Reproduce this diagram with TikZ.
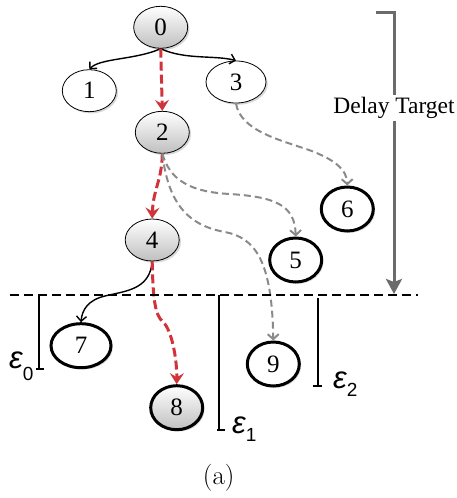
\documentclass[tikz,border=0pt]{standalone}
\usepackage{fontspec}
\newfontfamily\tnr{Liberation Serif}
\newfontfamily\lsans{Liberation Sans}
\usetikzlibrary{arrows.meta,shadows,shapes.geometric}
\definecolor{redpath}{HTML}{D0343A}
\definecolor{graypath}{HTML}{8A8A8A}
\definecolor{delaygray}{HTML}{6B6B6B}
\newcommand{\epslab}[2]{{\lsans\itshape\fontsize{31}{31}\selectfont ε}\raisebox{#2}{\lsans\fontsize{19}{19}\selectfont #1}}
\begin{document}
\begin{tikzpicture}[x=1pt,y=-1pt,
  nd/.style={ellipse, draw=black, line width=0.8pt, minimum width=54pt, minimum height=42pt,
    inner sep=0pt, fill=white, font=\tnr\fontsize{25}{25}\selectfont,
    drop shadow={shadow xshift=1.8pt, shadow yshift=-1.8pt, opacity=0.3}},
  thk/.style={line width=3pt, minimum width=52pt, minimum height=44pt},
  grd/.style={top color=white, bottom color=gray!50},
  blk/.style={line width=1.4pt, -{Straight Barb[length=5pt,width=10pt]}},
  redp/.style={line width=3pt, redpath, dash pattern=on 9pt off 4pt,
    -{Stealth[length=11pt,width=14pt,inset=4pt]}},
  grayp/.style={line width=2pt, graypath, dash pattern=on 7pt off 4pt,
    -{Straight Barb[length=5pt,width=11pt]}},
  hdash/.style={line width=2.5pt, dash pattern=on 9pt off 5pt},
  dg/.style={line width=3pt, delaygray},
  epsl/.style={line width=2.3pt},
  lab/.style={inner sep=0pt, anchor=base west}
]
\useasboundingbox (0,0) rectangle (456,498);

% nodes
\node[nd,grd] (a0) at (160.7,27.3) {0};
\node[nd] (a1) at (89.3,90.7) {1};
\node[nd,grd] (a2) at (162.3,132.3) {2};
\node[nd,minimum width=60pt] (a3) at (236,82) {3};
\node[nd,grd] (a4) at (152.2,240) {4};
\node[nd,thk] (a5) at (295.7,260) {5};
\node[nd,thk] (a6) at (347.3,209) {6};
\node[nd,thk,minimum width=60pt] (a7) at (81,345.7) {7};
\node[nd,thk,grd] (a8) at (176.7,407.7) {8};
\node[nd,thk] (a9) at (273.3,364) {9};

% black edges
\draw[blk] (a0.south) .. controls (135,60) and (100,58) .. (a1.north);
\draw[blk] (a0.south) .. controls (185,60) and (215,55) .. (a3.north);
\draw[blk] (a4.south) .. controls (150,290) and (125,291) .. (105,296)
  .. controls (88,300) and (82,310) .. (a7.north);

% red edges
\draw[redp] (a0.south) -- (a2.north);
\draw[redp] (a2.south) .. controls (162,180) and (153,190) .. (a4.north);
\draw[redp] (a4.south) .. controls (153,300) and (155,315) .. (163,322)
  .. controls (172,330) and (177,360) .. (a8.north);

% gray edges
\draw[grayp] (a2.south) .. controls (170,180) and (190,192) .. (230,194)
  .. controls (275,197) and (295,205) .. (a5.north);
\draw[grayp] (a2.south) .. controls (168,200) and (185,225) .. (225,232)
  .. controls (255,238) and (272,260) .. (a9.north);
\draw[grayp] (a3.south) .. controls (240,130) and (280,140) .. (300,147)
  .. controls (335,158) and (347,170) .. (a6.north);

% horizontal dashed line
\coordinate (hl) at (10,295);
\coordinate (hr) at (418,295);
\draw[hdash] (hl) -- (hr);

% delay target
\coordinate (dt0) at (376,12);
\coordinate (dt1) at (394,12);
\coordinate (dtb) at (394,294);
\node[inner sep=2pt, font=\tnr\fontsize{23.5}{23.5}\selectfont] (dtl) at (394,108) {Delay Target};
\draw[dg] (dt0) -- (dt1) -- (dtl.north);
\draw[dg, -{Stealth[length=15pt,width=16pt,inset=3pt]}] (dtl.south) -- (dtb);

% epsilon brackets
\coordinate (e0t) at (39,295);
\coordinate (e0b) at (39,369);
\coordinate (e0l) at (36,369);
\coordinate (e0r) at (44,369);
\draw[epsl] (e0t) -- (e0b);
\draw[epsl] (e0l) -- (e0r);
\node[lab] (eps0) at (9,368) {\epslab{0}{-12pt}};

\coordinate (e1t) at (219,295);
\coordinate (e1b) at (219,430);
\coordinate (e1l) at (217,430);
\coordinate (e1r) at (225,430);
\draw[epsl] (e1t) -- (e1b);
\draw[epsl] (e1l) -- (e1r);
\node[lab] (eps1) at (232,433) {\epslab{1}{-8pt}};

\coordinate (e2t) at (318,298);
\coordinate (e2b) at (318,386);
\coordinate (e2l) at (313,386);
\coordinate (e2r) at (322,386);
\draw[epsl] (e2t) -- (e2b);
\draw[epsl] (e2l) -- (e2r);
\node[lab] (eps2) at (333,388) {\epslab{2}{-8pt}};

% caption
\node[font=\fontsize{27}{27}\selectfont] (cap) at (218.7,477.7) {(a)};
\end{tikzpicture}
\end{document}
